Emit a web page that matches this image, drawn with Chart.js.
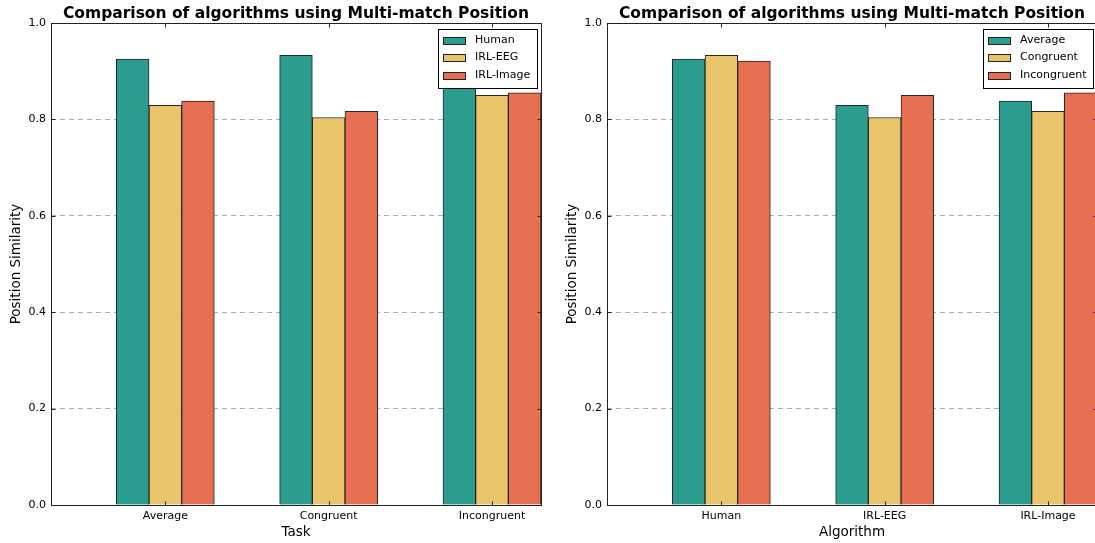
<!DOCTYPE html>
<html>
<head>
<meta charset="utf-8">
<script src="https://cdn.jsdelivr.net/npm/chart.js@4.4.0/dist/chart.umd.min.js"></script>
<style>
  html, body { margin: 0; padding: 0; background: #fff; width: 1095px; height: 543px; overflow: hidden; }
  .panel { position: absolute; top: 0; width: 556px; height: 543px; }
  #p1 { left: 0; }
  #p2 { left: 556px; }
</style>
</head>
<body>
<div class="panel" id="p1"><canvas id="c1" width="556" height="543"></canvas></div>
<div class="panel" id="p2"><canvas id="c2" width="556" height="543"></canvas></div>
<script>
// Multi-match position similarity, per task and per algorithm
const tasks = ['Average', 'Congruent', 'Incongruent'];
const algorithms = ['Human', 'IRL-EEG', 'IRL-Image'];
const human    = [0.925, 0.933, 0.921];
const irlEeg   = [0.829, 0.804, 0.850];
const irlImage = [0.838, 0.817, 0.855];
const yTicks = [0.0, 0.2, 0.4, 0.6, 0.8, 1.0];

const colors = ['#2a9d8f', '#e9c46a', '#e76f51'];
const BAR = 0.2;            // bar width in x units
const FONT = 'DejaVu Sans';

Chart.defaults.font.family = FONT;
Chart.defaults.color = '#000';

// spines and inward tick marks on all four sides
const framePlugin = {
  id: 'frame',
  afterDatasetsDraw(chart) {
    const { ctx, chartArea: a, scales: { x, y } } = chart;
    const L = Math.round(a.left) + 0.5, R = Math.round(a.right) + 0.5;
    const T = Math.round(a.top) + 0.5, B = Math.round(a.bottom) + 0.5;
    ctx.save();
    ctx.strokeStyle = '#222';
    ctx.lineWidth = 1;
    ctx.beginPath();
    x.ticks.forEach(t => {
      const px = Math.round(x.getPixelForValue(t.value)) + 0.5;
      ctx.moveTo(px, B); ctx.lineTo(px, B - 4);
      ctx.moveTo(px, T); ctx.lineTo(px, T + 4);
    });
    y.ticks.forEach(t => {
      const py = Math.round(y.getPixelForValue(t.value)) + 0.5;
      ctx.moveTo(L, py); ctx.lineTo(L + 4, py);
      ctx.moveTo(R, py); ctx.lineTo(R - 4, py);
    });
    ctx.stroke();
    ctx.strokeRect(L, T, R - L, B - T);
    ctx.restore();
  }
};

// framed legend in the upper right corner of the plot area
const boxLegendPlugin = {
  id: 'boxLegend',
  afterDraw(chart) {
    const { ctx, chartArea: a } = chart;
    const sets = chart.data.datasets;
    ctx.save();
    ctx.font = '11px "' + FONT + '"';
    const textW = Math.max(...sets.map(d => ctx.measureText(d.label).width));
    const w = 5 + 32 + textW + 7;
    const h = 59;
    const right = Math.round(a.right) - 4;
    const left = Math.round(right - w);
    const top = Math.round(a.top) + 6;
    ctx.fillStyle = '#fff';
    ctx.fillRect(left, top, right - left, h);
    ctx.strokeStyle = '#000';
    ctx.lineWidth = 1;
    ctx.strokeRect(left + 0.5, top + 0.5, right - left, h);
    sets.forEach((d, i) => {
      const cy = top + 11 + i * 17.6;
      ctx.fillStyle = d.backgroundColor;
      ctx.fillRect(left + 5.5, Math.round(cy - 3.5) + 0.5, 22, 7);
      ctx.strokeStyle = '#222';
      ctx.strokeRect(left + 5.5, Math.round(cy - 3.5) + 0.5, 22, 7);
      ctx.fillStyle = '#000';
      ctx.textBaseline = 'middle';
      ctx.textAlign = 'left';
      ctx.fillText(d.label, left + 37, cy);
    });
    ctx.restore();
  }
};

function makeChart(canvasId, groupLabels, seriesNames, seriesValues, xTitle) {
  const datasets = seriesNames.map((name, k) => ({
    label: name,
    data: seriesValues[k].map((v, i) => ({ x: i + k * BAR, y: v })),
    backgroundColor: colors[k],
    borderColor: '#262626',
    borderWidth: 1,
    grouped: false,
    categoryPercentage: 1,
    barPercentage: 1
  }));

  return new Chart(document.getElementById(canvasId), {
    type: 'bar',
    data: { datasets },
    options: {
      responsive: false,
      animation: false,
      events: [],
      layout: { padding: { left: 0, right: 15, top: 0, bottom: 0 } },
      plugins: {
        legend: { display: false },
        tooltip: { enabled: false },
        title: {
          display: true,
          fullSize: false,
          text: 'Comparison of algorithms using Multi-match Position',
          font: { size: 15.5, weight: 'bold', family: FONT, lineHeight: 1 },
          color: '#000',
          padding: { top: 6, bottom: 1.5 }
        }
      },
      scales: {
        x: {
          type: 'linear',
          offset: false,
          min: -0.5,
          max: 2.5,
          afterBuildTicks: ax => { ax.ticks = groupLabels.map((_, i) => ({ value: i + BAR })); },
          afterFit: s => { s.height = 38; },
          grid: { display: false, drawTicks: false },
          border: { display: false },
          ticks: {
            autoSkip: false,
            maxRotation: 0,
            padding: 5,
            font: { size: 11 },
            color: '#000',
            callback: (v, i) => groupLabels[i]
          },
          title: {
            display: true,
            text: xTitle,
            font: { size: 13.5 },
            color: '#000',
            padding: { top: 0, bottom: 2.6 }
          }
        },
        y: {
          min: 0,
          max: 1,
          z: 1,
          afterBuildTicks: ax => { ax.ticks = yTicks.map(v => ({ value: v })); },
          afterFit: s => { s.width = 51; },
          grid: {
            drawTicks: false,
            lineWidth: 1,
            color: c => (c.tick && c.tick.value > 0.01 && c.tick.value < 0.99) ? 'rgba(0,0,0,0.32)' : 'rgba(0,0,0,0)'
          },
          border: { display: false, dash: [5, 4] },
          ticks: {
            padding: 5,
            font: { size: 11 },
            color: '#000',
            callback: v => v.toFixed(1)
          },
          title: {
            display: true,
            text: 'Position Similarity',
            font: { size: 13.5 },
            color: '#000',
            padding: { top: 8, bottom: 0 }
          }
        }
      }
    },
    plugins: [framePlugin, boxLegendPlugin]
  });
}

// left: tasks on the x axis, one bar per algorithm
makeChart('c1', tasks, algorithms, [human, irlEeg, irlImage], 'Task');

// right: algorithms on the x axis, one bar per task
const byTask = tasks.map((_, t) => [human[t], irlEeg[t], irlImage[t]]);
makeChart('c2', algorithms, tasks, byTask, 'Algorithm');
</script>
</body>
</html>
